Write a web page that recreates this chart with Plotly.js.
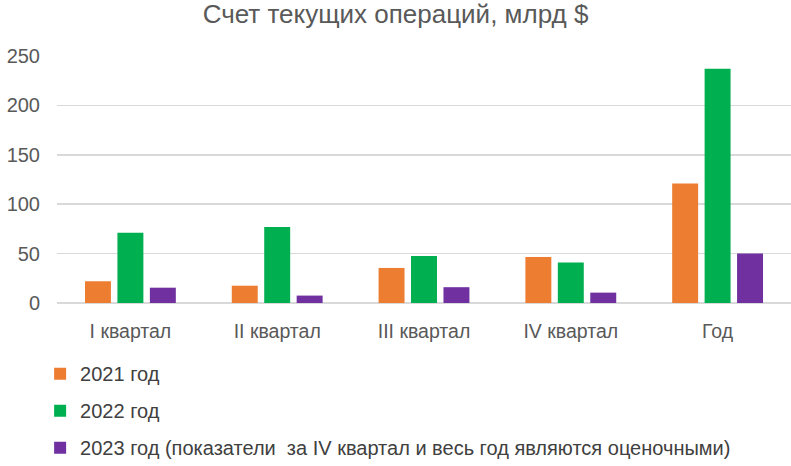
<!DOCTYPE html>
<html>
<head>
<meta charset="utf-8">
<script src="https://cdn.plot.ly/plotly-3.0.1.min.js"></script>
<style>html,body{margin:0;padding:0;background:#fff;}#chart{width:791px;height:466px;}</style>
</head>
<body>
<div id="chart"></div>
<script>
const categories = ["I квартал", "II квартал", "III квартал", "IV квартал", "Год"];
const seriesNames = ["2021 год", "2022 год", "2023 год (показатели  за IV квартал и весь год являются оценочными)"];
const values2021 = [22, 17.5, 35.5, 46.5, 121];
const values2022 = [71, 77, 47.5, 41, 237];
const values2023 = [15.5, 7.5, 16, 10.5, 50];
const colors = ["#ED7D31", "#00B050", "#7030A0"];
const tickVals = [0, 50, 100, 150, 200, 250];

const allValues = [values2021, values2022, values2023];
const traces = allValues.map((v, i) => ({
  type: "bar",
  x: categories,
  y: v,
  name: seriesNames[i],
  legendgroup: "g" + i,
  marker: {color: colors[i]},
  hoverinfo: "y"
}));

const layout = {
  width: 791, height: 466,
  margin: {l: 57, r: 0, t: 56, b: 163},
  paper_bgcolor: "#fff", plot_bgcolor: "#fff",
  font: {family: "Liberation Sans, Arial, sans-serif", color: "#595959"},
  title: {text: "Счет текущих операций, млрд $", x: 0.5, xanchor: "center", y: 0.99, yanchor: "top",
          font: {size: 26, color: "#595959", family: "Liberation Sans, Arial, sans-serif"}},
  barmode: "group",
  bargap: 0.337,
  bargroupgap: 0.2,
  xaxis: {showline: false, ticks: "", ticklabelstandoff: 14, tickfont: {size: 19.5, color: "#595959"}, showgrid: false},
  yaxis: {range: [0, 250], tickvals: tickVals, ticktext: tickVals.map(String), showgrid: true,
          gridcolor: "#d9d9d9", gridwidth: 1.5, zeroline: true, zerolinecolor: "#d9d9d9", zerolinewidth: 1.5,
          showline: false, ticks: "", ticklabelstandoff: 16, tickfont: {size: 20, color: "#595959"}},
  showlegend: true,
  legend: {orientation: "v", x: -0.023, xanchor: "left",
           yref: "container", y: 0.24, yanchor: "top",
           traceorder: "grouped", tracegroupgap: 8,
           font: {size: 20, color: "#404040", family: "Liberation Sans, Arial, sans-serif"},
           itemwidth: 30, bgcolor: "rgba(0,0,0,0)"}
};

Plotly.newPlot("chart", traces, layout, {displayModeBar: false, staticPlot: true});
</script>
</body>
</html>
